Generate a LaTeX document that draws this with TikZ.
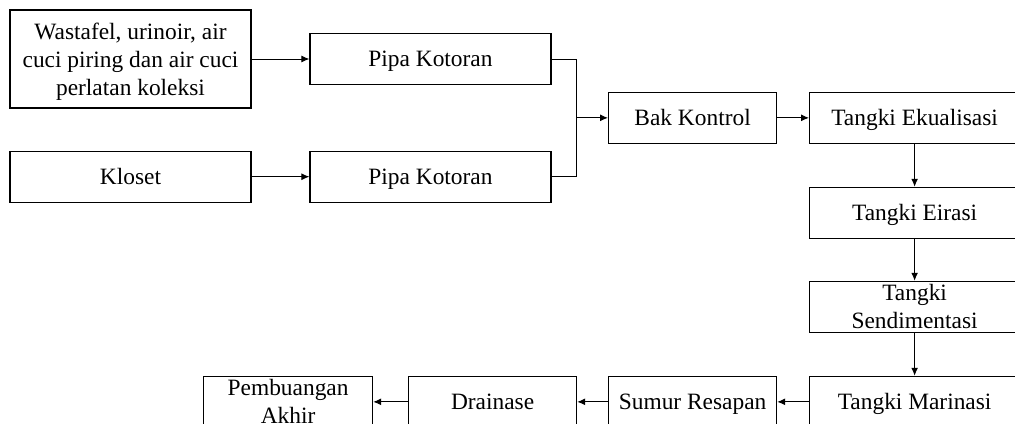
\documentclass[tikz,border=0pt]{standalone}
\usepackage{fontspec}
\setmainfont{Liberation Serif}
\usepackage{tikz}
\usetikzlibrary{
  arrows.meta,
  positioning,
  calc
}

\begin{document}
\begin{tikzpicture}[
    kotak/.style={
    draw,
    minimum width=120.5pt,
    minimum height=25.5pt,
    align=center,
    line width=0.6pt,
    text height=10.3pt,
    text depth=2.5pt,
    font=\fontsize{11.7}{14}\selectfont
    },
    kecil/.style={kotak, minimum width=84pt},
    tangki/.style={kotak, minimum width=105pt},
    dua/.style={inner ysep=0pt, text height=22pt, text depth=0.5pt},
    garis/.style={line width=0.5pt},
    panah/.style={-{Latex[length=4pt,width=3.5pt]},line width=0.5pt}
    ]
    
    \useasboundingbox (0,0) rectangle (507.5pt,-211.5pt);
    
    \node[kotak,minimum height=49pt,text height=38.5pt,text depth=2.5pt]
    (wastafel) at (65.25pt,-29.5pt)
    {Wastafel, urinoir, air\\cuci piring dan air cuci\\perlatan koleksi};
    
    \node[kotak,below=21pt of wastafel]
    (kloset){Kloset};
    
    \node[kotak,right=28.9pt of wastafel]
    (pipa1){Pipa Kotoran};
    
    \node[kotak,right=28.9pt of kloset]
    (pipa2){Pipa Kotoran};
    
    \coordinate (tengah) at ($(pipa1.east)!0.5!(pipa2.east)$);
    \coordinate (simpul) at ($(tengah)+(12.3pt,0)$);
    
    \node[kecil,right=15.9pt of simpul]
    (bak){Bak Kontrol};
    
    \node[tangki,right=15.9pt of bak]
    (ekual){Tangki Ekualisasi};
    
    \node[tangki,below=21.4pt of ekual]
    (eirasi){Tangki Eirasi};
    
    \node[tangki,dua,below=20.9pt of eirasi]
    (sendimen){Tangki\\Sendimentasi};
    
    \node[tangki,below=21.4pt of sendimen]
    (marinasi){Tangki Marinasi};
    
    \node[kecil,left=15.9pt of marinasi]
    (sumur){Sumur Resapan};
    
    \node[kecil,left=15.4pt of sumur]
    (drainase){Drainase};
    
    \node[kecil,dua,minimum width=84.5pt,left=17.4pt of drainase]
    (buang){Pembuangan\\Akhir};
    
    \draw[panah](wastafel)--(pipa1);
    \draw[panah](kloset)--(pipa2);
    \draw[garis](pipa1.east)-|(simpul)|-(pipa2.east);
    \draw[panah](simpul)--(bak);
    \draw[panah](bak)--(ekual);
    \draw[panah](ekual)--(eirasi);
    \draw[panah](eirasi)--(sendimen);
    \draw[panah](sendimen)--(marinasi);
    \draw[panah](marinasi)--(sumur);
    \draw[panah](sumur)--(drainase);
    \draw[panah](drainase)--(buang);
    
    \end{tikzpicture}
\end{document}
